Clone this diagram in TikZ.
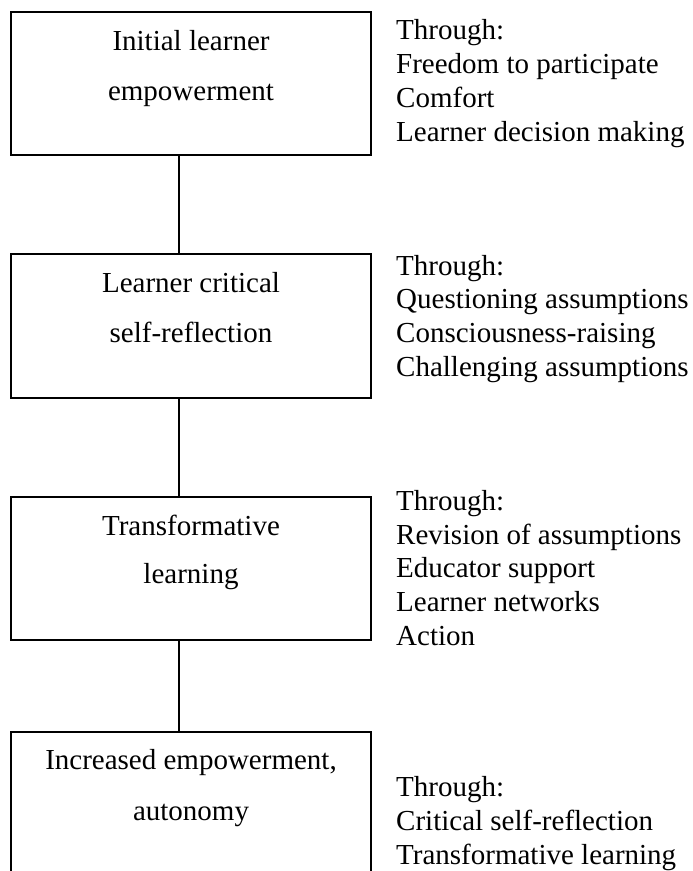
\documentclass[tikz,border=0pt]{standalone}
\usepackage{fontspec}
\setmainfont{Liberation Serif}
\begin{document}
\begin{tikzpicture}[x=1pt,y=-1pt,
  box/.style={draw=black,line width=1.4pt,rectangle,inner sep=0pt},
  conn/.style={draw=black,line width=1.3pt},
  boxtext/.style={anchor=base,inner sep=0pt,font=\fontsize{29}{34}\selectfont},
  sidetext/.style={anchor=base west,inner sep=0pt,font=\fontsize{29}{34}\selectfont}]
\clip (0,0) rectangle (693,871);
\fill[white] (0,0) rectangle (693,871);
% boxes
\node[box,minimum width=360pt,minimum height=143pt] (b1) at (191,83.5) {};
\node[box,minimum width=360pt,minimum height=144pt] (b2) at (191,326) {};
\node[box,minimum width=360pt,minimum height=143pt] (b3) at (191,568.5) {};
\node[box,minimum width=360pt,minimum height=160pt] (b4) at (191,812) {};
\coordinate (cx) at (179,0);
% connectors
\draw[conn] (b1.south -| cx) -- (b2.north -| cx);
\draw[conn] (b2.south -| cx) -- (b3.north -| cx);
\draw[conn] (b3.south -| cx) -- (b4.north -| cx);
% box texts
\node[boxtext] (t1a) at (191,50) {Initial learner};
\node[boxtext] (t1b) at (191,100) {empowerment};
\node[boxtext] (t2a) at (191,292) {Learner critical};
\node[boxtext] (t2b) at (191,342) {self-reflection};
\node[boxtext] (t3a) at (191,535) {Transformative};
\node[boxtext] (t3b) at (191,583) {learning};
\node[boxtext] (t4a) at (191,769) {Increased empowerment,};
\node[boxtext] (t4b) at (191,820) {autonomy};
% side texts
\node[sidetext] (s1a) at (396,39) {Through:};
\node[sidetext] (s1b) at (396,73) {Freedom to participate};
\node[sidetext] (s1c) at (396,107) {Comfort};
\node[sidetext] (s1d) at (396,141) {Learner decision making};
\node[sidetext] (s2a) at (396,275) {Through:};
\node[sidetext] (s2b) at (396,308.7) {Questioning assumptions};
\node[sidetext] (s2c) at (396,342.4) {Consciousness-raising};
\node[sidetext] (s2d) at (396,376) {Challenging assumptions};
\node[sidetext] (s3a) at (396,510) {Through:};
\node[sidetext] (s3b) at (396,544) {Revision of assumptions};
\node[sidetext] (s3c) at (396,577.5) {Educator support};
\node[sidetext] (s3d) at (396,611) {Learner networks};
\node[sidetext] (s3e) at (396,645) {Action};
\node[sidetext] (s4a) at (396,796) {Through:};
\node[sidetext] (s4b) at (396,830) {Critical self-reflection};
\node[sidetext] (s4c) at (396,864) {Transformative learning};
\end{tikzpicture}
\end{document}
